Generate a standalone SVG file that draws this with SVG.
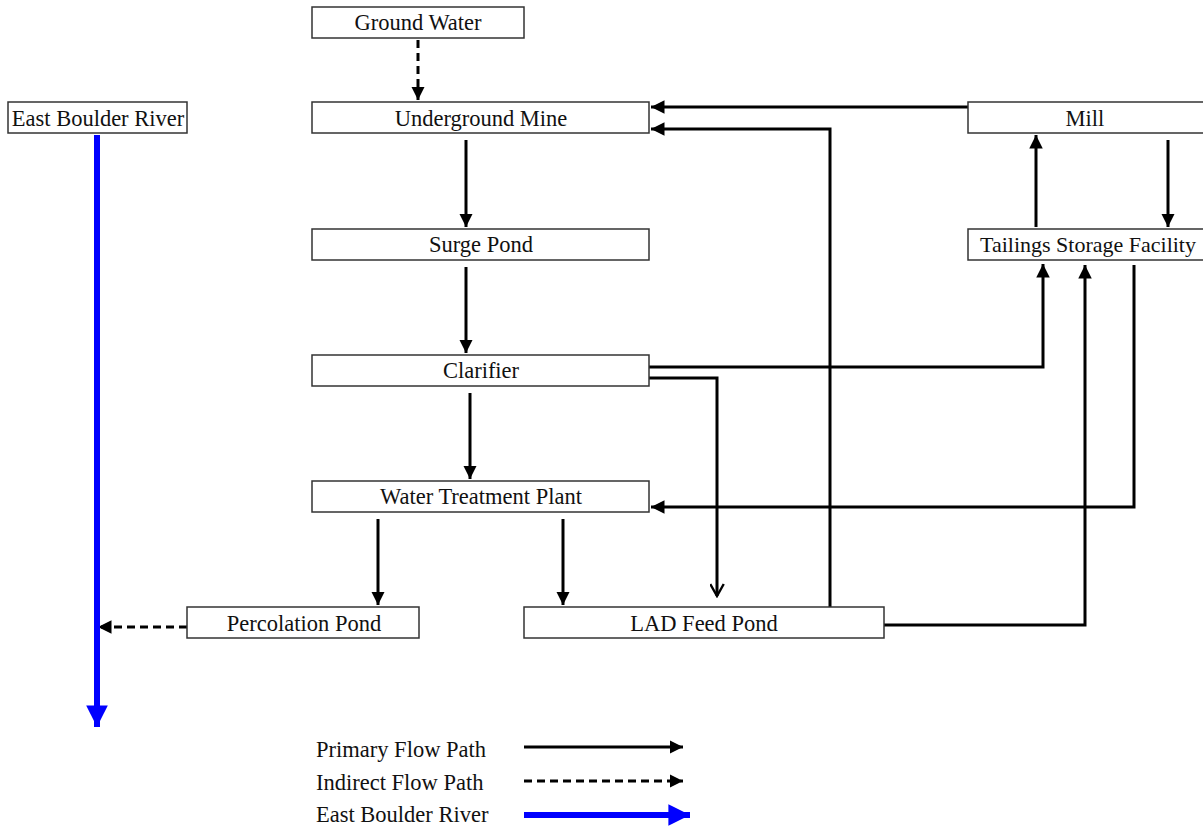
<svg xmlns="http://www.w3.org/2000/svg" width="1203" height="828" viewBox="0 0 1203 828">
<defs>
<style>
.box{fill:#fff;stroke:#333;stroke-width:1.5}
.lbl{font-family:"Liberation Serif","Times New Roman",serif;font-size:22.5px;fill:#111;text-anchor:middle}
.lbl2{font-family:"Liberation Serif","Times New Roman",serif;font-size:22px;fill:#111;text-anchor:middle}
.leg{font-family:"Liberation Serif","Times New Roman",serif;font-size:22.5px;fill:#111}
.c{fill:none;stroke:#000;stroke-width:3}
.d{fill:none;stroke:#000;stroke-width:3;stroke-dasharray:8,5}
.b{fill:none;stroke:#00f;stroke-width:6}
</style>
<marker id="ah" viewBox="0 0 10 10" refX="10" refY="5" markerWidth="4.5" markerHeight="4.5" markerUnits="strokeWidth" orient="auto">
<path d="M0,0 L10,5 L0,10 z" fill="#000"/>
</marker>
<marker id="ov" viewBox="0 0 10 10" refX="9" refY="5" markerWidth="5" markerHeight="5" markerUnits="strokeWidth" orient="auto">
<path d="M1,0.5 L9,5 L1,9.5" fill="none" stroke="#000" stroke-width="1.6"/>
</marker>
<marker id="bh" viewBox="0 0 10 10" refX="10" refY="5" markerWidth="3.6" markerHeight="3.6" markerUnits="strokeWidth" orient="auto">
<path d="M0,0 L10,5 L0,10 z" fill="#00f"/>
</marker>
</defs>
<rect width="1203" height="828" fill="#fff"/>
<g id="connectors">
<line class="d" x1="418" y1="40" x2="418" y2="100" marker-end="url(#ah)"/>
<line class="c" x1="968" y1="107" x2="651" y2="107" marker-end="url(#ah)"/>
<polyline class="c" points="830,607 830,129 651,129" marker-end="url(#ah)"/>
<line class="c" x1="466" y1="140" x2="466" y2="227" marker-end="url(#ah)"/>
<line class="c" x1="466" y1="267" x2="466" y2="353" marker-end="url(#ah)"/>
<line class="c" x1="470" y1="393" x2="470" y2="479" marker-end="url(#ah)"/>
<polyline class="c" points="649,367 1043,367 1043,264" marker-end="url(#ah)"/>
<polyline class="c" points="649,378 717,378 717,596" marker-end="url(#ov)"/>
<polyline class="c" points="1134,265 1134,507 651,507" marker-end="url(#ah)"/>
<polyline class="c" points="884,625 1085,625 1085,265" marker-end="url(#ah)"/>
<line class="c" x1="1168" y1="140" x2="1168" y2="227" marker-end="url(#ah)"/>
<line class="c" x1="1036" y1="227" x2="1036" y2="135" marker-end="url(#ah)"/>
<line class="c" x1="378" y1="519" x2="378" y2="605" marker-end="url(#ah)"/>
<line class="c" x1="563" y1="519" x2="563" y2="605" marker-end="url(#ah)"/>
<line class="d" x1="187" y1="627" x2="98" y2="627" marker-end="url(#ah)"/>
<line class="b" x1="97" y1="135" x2="97" y2="727" marker-end="url(#bh)"/>
</g>
<g id="ground-water"><rect class="box" x="312" y="7" width="212" height="31"/><text class="lbl" x="418" y="30">Ground Water</text></g>
<g id="underground-mine"><rect class="box" x="312" y="102" width="337" height="31"/><text class="lbl" x="481" y="126">Underground Mine</text></g>
<g id="surge-pond"><rect class="box" x="312" y="229" width="337" height="31"/><text class="lbl" x="481" y="252">Surge Pond</text></g>
<g id="clarifier"><rect class="box" x="312" y="355" width="337" height="31"/><text class="lbl" x="481" y="378">Clarifier</text></g>
<g id="water-treatment-plant"><rect class="box" x="312" y="481" width="337" height="31"/><text class="lbl" x="481" y="504">Water Treatment Plant</text></g>
<g id="percolation-pond"><rect class="box" x="187" y="607" width="232" height="31"/><text class="lbl" x="304" y="631">Percolation Pond</text></g>
<g id="lad-feed-pond"><rect class="box" x="524" y="607" width="360" height="31"/><text class="lbl" x="704" y="631">LAD Feed Pond</text></g>
<g id="east-boulder-river"><rect class="box" x="8" y="102" width="179" height="31"/><text class="lbl" x="98" y="126">East Boulder River</text></g>
<g id="mill"><rect class="box" x="968" y="102" width="240" height="31"/><text class="lbl" x="1085" y="126">Mill</text></g>
<g id="tailings-storage-facility"><rect class="box" x="968" y="229" width="240" height="31"/><text class="lbl2" x="1088" y="252">Tailings Storage Facility</text></g>
<g id="legend">
<text class="leg" x="316" y="757">Primary Flow Path</text>
<line class="c" x1="524" y1="747" x2="683" y2="747" marker-end="url(#ah)"/>
<text class="leg" x="316" y="790">Indirect Flow Path</text>
<line class="d" x1="524" y1="781" x2="683" y2="781" marker-end="url(#ah)"/>
<text class="leg" x="316" y="822">East Boulder River</text>
<line class="b" x1="524" y1="815" x2="690" y2="815" marker-end="url(#bh)"/>
</g>
</svg>
